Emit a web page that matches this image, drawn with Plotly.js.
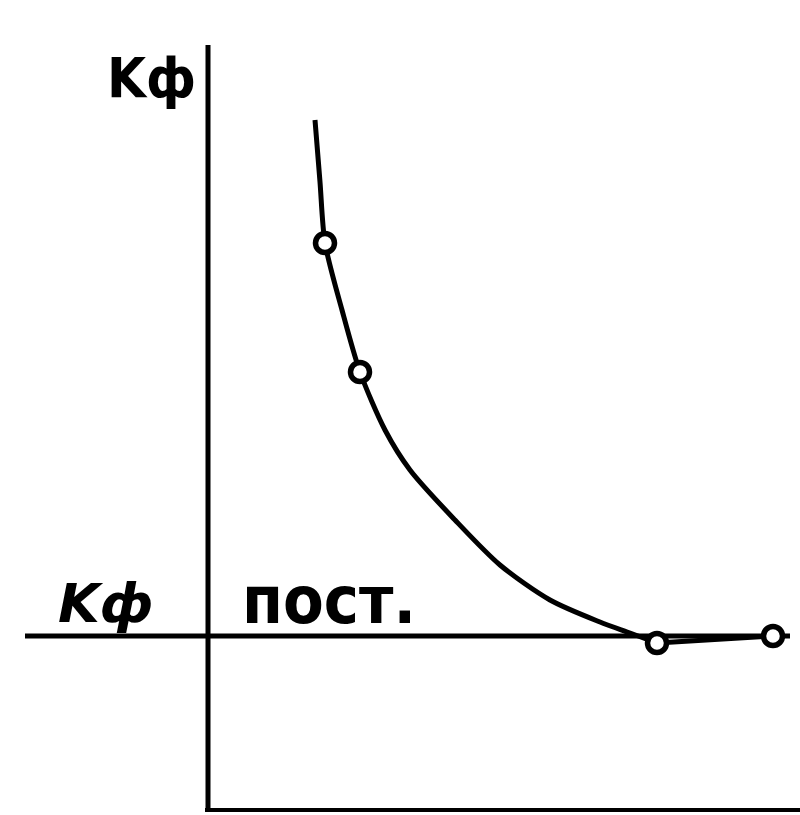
<!DOCTYPE html>
<html>
<head>
<meta charset="utf-8">
<script src="https://cdn.plot.ly/plotly-3.0.1.min.js"></script>
<style>
  html, body { margin: 0; padding: 0; background: #fff; }
  #chart { width: 800px; height: 815px; }
</style>
</head>
<body>
<div id="chart"></div>
<script>
// Form factor Kф versus the abscissa, settling onto the constant level Kф пост.
const curveX = [1.07, 1.12, 1.17, 1.34, 1.52, 1.77, 2.02, 2.47, 2.92, 3.42, 3.92, 4.22, 4.49];
const curveY = [6.90, 6.28, 5.67, 5.00, 4.38, 3.80, 3.40, 2.90, 2.45, 2.10, 1.88, 1.77, 1.67];

// Measured points (open circles)
const pointX = [1.17, 1.52, 4.49, 5.65];
const pointY = [5.67, 4.38, 1.67, 1.74];

// Constant level and the tail that joins it
const constLevel = 1.74;
const constX = [-1.83, 5.82];
const tailX = [4.49, 5.65];
const tailY = [1.67, 1.74];

// Axis frame extents
const axisTop = 7.65;
const axisRight = 5.92;

const labelTop = 'Kф';
const labelConstK = 'Kф';
const labelConstWord = 'пост.';

const ink = '#000';

const traces = [
  {
    x: constX, y: [constLevel, constLevel], mode: 'lines',
    line: { color: ink, width: 5 }, hoverinfo: 'skip'
  },
  {
    x: curveX, y: curveY, mode: 'lines',
    line: { color: ink, width: 5, shape: 'spline', smoothing: 0.8 }, hoverinfo: 'skip'
  },
  {
    x: tailX, y: tailY, mode: 'lines',
    line: { color: ink, width: 5 }, hoverinfo: 'skip'
  },
  {
    x: pointX, y: pointY, mode: 'markers',
    marker: { symbol: 'circle', size: 19, color: '#fff', line: { color: ink, width: 5.5 } },
    hoverinfo: 'skip'
  }
];

const layout = {
  width: 800, height: 815,
  margin: { l: 0, r: 0, t: 0, b: 0 },
  paper_bgcolor: '#fff', plot_bgcolor: '#fff',
  showlegend: false,
  xaxis: { range: [-2.08, 5.92], visible: false, fixedrange: true },
  yaxis: { range: [-0.05, 8.10], visible: false, fixedrange: true },
  shapes: [
    { type: 'line', xref: 'x', yref: 'y', x0: 0, x1: 0, y0: 0, y1: axisTop,
      line: { color: ink, width: 5 } },
    { type: 'line', xref: 'x', yref: 'y', x0: -0.03, x1: axisRight, y0: 0, y1: 0,
      line: { color: ink, width: 4 } }
  ],
  annotations: [
    { xref: 'x', yref: 'y', x: -0.1, y: 7.33, text: labelTop, showarrow: false,
      xanchor: 'right', yanchor: 'middle',
      font: { family: 'DejaVu Sans Condensed, DejaVu Sans', size: 56, color: ink, weight: 'bold' } },
    { xref: 'x', yref: 'y', x: -0.53, y: 2.07, text: '<i>' + labelConstK + '</i>', showarrow: false,
      xanchor: 'right', yanchor: 'middle',
      font: { family: 'DejaVu Sans', size: 54, color: ink, weight: 'bold' } },
    { xref: 'x', yref: 'y', x: 0.32, y: 2.1, text: labelConstWord, showarrow: false,
      xanchor: 'left', yanchor: 'middle',
      font: { family: 'DejaVu Sans Condensed, DejaVu Sans', size: 66, color: ink, weight: 'bold' } }
  ]
};

Plotly.newPlot('chart', traces, layout, { staticPlot: true, displayModeBar: false });
</script>
</body>
</html>
